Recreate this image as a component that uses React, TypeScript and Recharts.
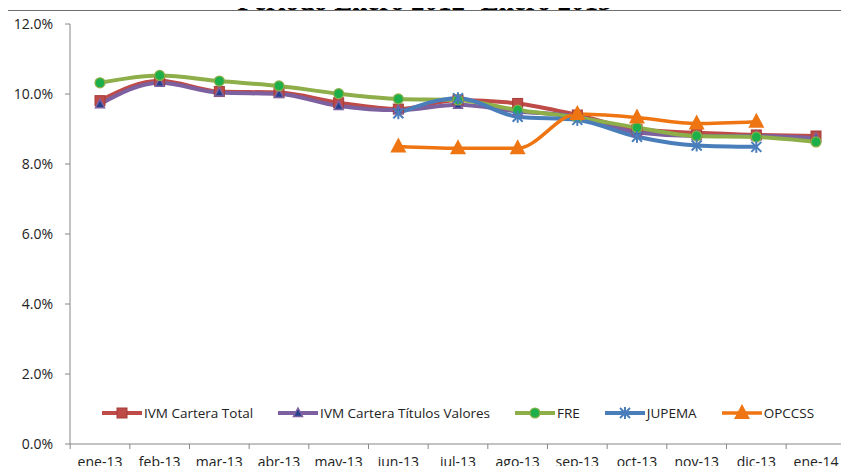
import React from 'react';
import { LineChart, Line, XAxis, YAxis, Legend } from 'recharts';

const months = ['ene-13', 'feb-13', 'mar-13', 'abr-13', 'may-13', 'jun-13', 'jul-13', 'ago-13', 'sep-13', 'oct-13', 'nov-13', 'dic-13', 'ene-14'];
const ivmTotal = [9.81, 10.38, 10.07, 10.04, 9.75, 9.57, 9.83, 9.73, 9.40, 8.99, 8.89, 8.83, 8.80];
const ivmTitulos = [9.71, 10.32, 10.04, 10.0, 9.66, 9.54, 9.69, 9.5, 9.35, 8.9, 8.8, 8.8, 8.74];
const fre = [10.32, 10.53, 10.37, 10.23, 10.01, 9.86, 9.83, 9.54, 9.33, 9.04, 8.8, 8.77, 8.63];
const jupema = [null, null, null, null, null, 9.45, 9.88, 9.35, 9.26, 8.78, 8.53, 8.49, null];
const opccss = [null, null, null, null, null, 8.5, 8.45, 8.45, 9.43, 9.33, 9.16, 9.21, null];
const yTicks = [0, 2, 4, 6, 8, 10, 12];

const data = months.map((month, i) => ({
  month,
  ivmTotal: ivmTotal[i],
  ivmTitulos: ivmTitulos[i],
  fre: fre[i],
  jupema: jupema[i],
  opccss: opccss[i],
}));

type Shape = 'square' | 'smallTriangle' | 'circle' | 'star' | 'bigTriangle';

const SERIES: { key: string; name: string; color: string; shape: Shape; width: number }[] = [
  { key: 'ivmTotal', name: 'IVM Cartera Total', color: '#BE4B48', shape: 'square', width: 4 },
  { key: 'ivmTitulos', name: 'IVM Cartera Títulos Valores', color: '#7D60A0', shape: 'smallTriangle', width: 4 },
  { key: 'fre', name: 'FRE', color: '#8DAE48', shape: 'circle', width: 4 },
  { key: 'jupema', name: 'JUPEMA', color: '#4A7EBB', shape: 'star', width: 4 },
  { key: 'opccss', name: 'OPCCSS', color: '#EE7512', shape: 'bigTriangle', width: 3.5 },
];

const FONT = '"Open Sans", Arial, sans-serif';
const CHART_H = 474;
const X_AXIS_H = 30;
const AXIS_Y = CHART_H - X_AXIS_H;

const Marker = ({ shape, cx, cy }: { shape: Shape; cx: number; cy: number }) => {
  switch (shape) {
    case 'square':
      return <rect x={cx - 5} y={cy - 5} width={10} height={10} fill="#BE4B48" stroke="#A33C39" strokeWidth={1} />;
    case 'smallTriangle':
      return (
        <polygon
          points={`${cx},${cy - 5} ${cx + 4.5},${cy + 3.5} ${cx - 4.5},${cy + 3.5}`}
          fill="#24418E"
          stroke="#7D60A0"
          strokeWidth={1.5}
        />
      );
    case 'circle':
      return <circle cx={cx} cy={cy} r={5} fill="#1DB04A" stroke="#8DAE48" strokeWidth={1.2} />;
    case 'star':
      return (
        <g stroke="#4A7EBB" strokeWidth={2}>
          <line x1={cx - 5} y1={cy - 5} x2={cx + 5} y2={cy + 5} />
          <line x1={cx - 5} y1={cy + 5} x2={cx + 5} y2={cy - 5} />
          <line x1={cx} y1={cy - 6} x2={cx} y2={cy + 6} />
        </g>
      );
    case 'bigTriangle':
      return <polygon points={`${cx},${cy - 9} ${cx + 8},${cy + 6} ${cx - 8},${cy + 6}`} fill="#EE7512" />;
  }
  return null;
};

const makeDot = (shape: Shape) => (p: any) => {
  if (p.cx == null || p.cy == null || p.value == null || (Array.isArray(p.value) && p.value[1] == null)) {
    return <g key={`e-${p.index}`} />;
  }
  return (
    <g key={`d-${p.index}`}>
      <Marker shape={shape} cx={p.cx} cy={p.cy} />
    </g>
  );
};

const HALF_BAND = 29.85;

// Excel-style category axis: tick marks sit between the categories
const XTick = (props: any) => {
  const { x, payload, index } = props;
  return (
    <g>
      <line x1={x - HALF_BAND} x2={x - HALF_BAND} y1={AXIS_Y} y2={AXIS_Y + 5} stroke="#868686" />
      {index === months.length - 1 && (
        <line x1={x + HALF_BAND} x2={x + HALF_BAND} y1={AXIS_Y} y2={AXIS_Y + 5} stroke="#868686" />
      )}
      <text x={x} y={AXIS_Y + 23} textAnchor="middle" fontFamily={FONT} fontSize={14} fill="#222">
        {payload.value}
      </text>
    </g>
  );
};

const renderLegend = () => (
  <div style={{ display: 'flex', justifyContent: 'center', alignItems: 'center', gap: 25, fontFamily: FONT, fontSize: 13.5, color: '#222' }}>
    {SERIES.map((s) => (
      <div key={s.key} style={{ display: 'flex', alignItems: 'center' }}>
        <svg width={40} height={18} style={{ marginRight: 2 }}>
          <line x1={0} x2={40} y1={9} y2={9} stroke={s.color} strokeWidth={s.width} />
          <Marker shape={s.shape} cx={20} cy={9} />
        </svg>
        <span>{s.name}</span>
      </div>
    ))}
  </div>
);

export default function App() {
  return (
    <div style={{ position: 'relative', margin: -8, width: 849, height: 474, overflow: 'hidden', background: '#fff' }}>
      <div style={{ position: 'absolute', left: 6, top: 10, width: 900, height: 500, border: '1px solid #6f6f6f' }} />
      <div style={{ position: 'absolute', left: 0, top: 0 }}>
        <LineChart width={849} height={CHART_H} data={data} margin={{ top: 24, right: 3, bottom: 0, left: 8 }}>
          <XAxis
            dataKey="month"
            interval={0}
            padding={{ left: 30, right: 30 }}
            height={X_AXIS_H}
            tickSize={0}
            tickMargin={0}
            tickLine={false}
            tick={<XTick />}
            axisLine={{ stroke: '#868686' }}
          />
          <XAxis xAxisId="top" orientation="top" dataKey="month" height={0} tick={false} tickLine={false} axisLine={{ stroke: '#D9D9D9', strokeWidth: 2 }} />
          <YAxis
            domain={[0, 12]}
            ticks={yTicks}
            width={62}
            tickSize={5}
            tickMargin={12}
            tickFormatter={(v: number) => `${v.toFixed(1)}%`}
            tick={{ fontFamily: FONT, fontSize: 14, fill: '#222' }}
            tickLine={{ stroke: '#868686' }}
            axisLine={{ stroke: '#868686' }}
          />
          <YAxis yAxisId="right" orientation="right" width={0} tick={false} tickLine={false} axisLine={{ stroke: '#D9D9D9', strokeWidth: 2 }} />
          <Legend
            layout="horizontal"
            verticalAlign="middle"
            align="center"
            content={renderLegend}
            wrapperStyle={{ position: 'absolute', left: 70, top: 404, width: 776, height: 18 }}
          />
          {SERIES.map((s) => (
            <Line
              key={s.key}
              type="monotone"
              dataKey={s.key}
              name={s.name}
              stroke={s.color}
              strokeWidth={s.width}
              dot={makeDot(s.shape)}
              activeDot={false}
              isAnimationActive={false}
            />
          ))}
        </LineChart>
      </div>
      <div
        style={{
          position: 'absolute',
          left: 0,
          top: -12,
          width: 849,
          zIndex: 2,
          textAlign: 'center',
          fontFamily: '"Liberation Serif", "Times New Roman", serif',
          fontWeight: 'bold',
          fontSize: 27,
          lineHeight: '27px',
          color: '#000',
        }}
      >
        Periodo Enero 2012- Enero 2013
      </div>
    </div>
  );
}
